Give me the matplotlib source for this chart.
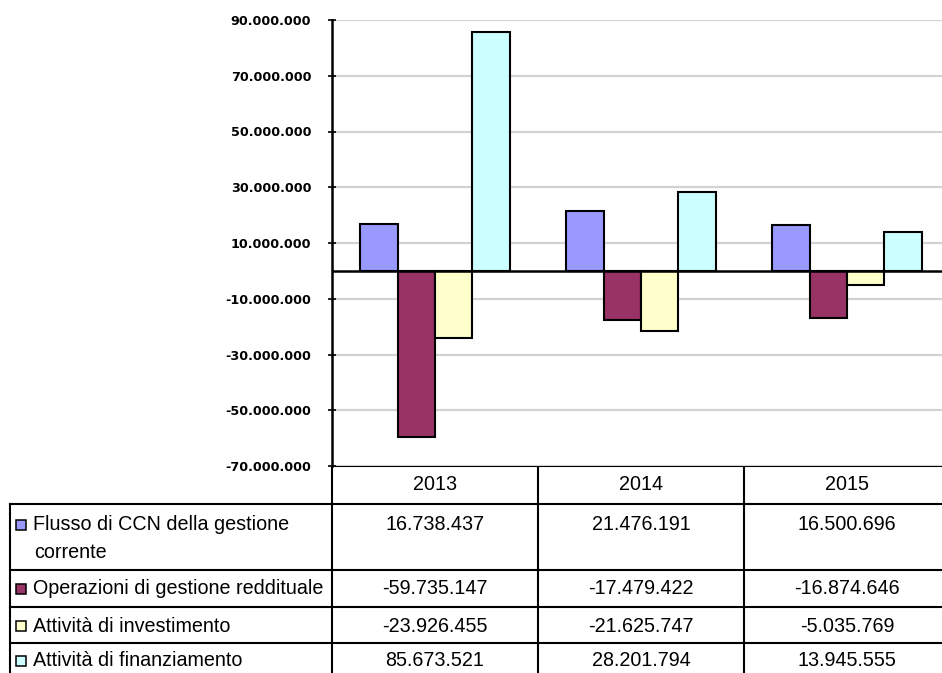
import numpy as np
import matplotlib
matplotlib.use("Agg")
import matplotlib.pyplot as plt
from matplotlib.ticker import FixedLocator, FuncFormatter

# ---- data ----
years = ["2013", "2014", "2015"]
series_names = [
    ["Flusso di CCN della gestione", "corrente"],
    ["Operazioni di gestione reddituale"],
    ["Attività di investimento"],
    ["Attività di finanziamento"],
]
flusso_ccn = [16738437, 21476191, 16500696]
gestione_reddituale = [-59735147, -17479422, -16874646]
investimento = [-23926455, -21625747, -5035769]
finanziamento = [85673521, 28201794, 13945555]
y_ticks = [-70000000, -50000000, -30000000, -10000000, 10000000,
           30000000, 50000000, 70000000, 90000000]

colors = ["#9999FF", "#993366", "#FFFFCC", "#CCFFFF"]
series = [flusso_ccn, gestione_reddituale, investimento, finanziamento]

W, H = 942, 673


def fmt(v):
    return f"{int(v):,}".replace(",", ".")


fig = plt.figure(figsize=(W / 100, H / 100), dpi=100)

# ---- chart area (pixel layout) ----
px_l, px_r, px_t, px_b = 332, 950, 20, 466
ax = fig.add_axes([px_l / W, 1 - px_b / H, (px_r - px_l) / W, (px_b - px_t) / H])
ax.set_xlim(-0.5, 2.5)
ax.set_ylim(-70000000, 90000000)

x = np.arange(len(years))
w = 1 / 5.5
for i, (vals, col) in enumerate(zip(series, colors)):
    ax.bar(x + (i - 1.5) * w, vals, width=w, color=col, edgecolor="black",
           linewidth=1.5, zorder=3)

ax.axhline(0, color="black", lw=1.8, zorder=4)
ax.yaxis.set_major_locator(FixedLocator(y_ticks))
ax.yaxis.set_major_formatter(FuncFormatter(lambda v, p: fmt(v)))
ax.grid(axis="y", color="#D2D2D2", lw=1.6, zorder=0)
ax.set_xticks([])
ax.tick_params(axis="y", direction="inout", length=6, width=1.2, pad=12,
               labelsize=9.2)
for lab in ax.get_yticklabels():
    lab.set_fontweight("bold")
    lab.set_family("DejaVu Sans")
for s in ["top", "right", "bottom"]:
    ax.spines[s].set_visible(False)
ax.spines["left"].set_linewidth(1.8)

# ---- data table below the chart, pixel coordinates ----
tb = fig.add_axes([0, 0, 1, (H - px_b) / H])
tb.set_xlim(0, W)
tb.set_ylim(H, px_b)
tb.axis("off")

col_edges = [332, 538, 744, 950]
row_edges = [504, 570, 607, 643, 700]
lk = dict(color="black", lw=1.5, solid_capstyle="projecting")

tb.plot([332, 950], [px_b, px_b], **lk)
tb.plot([10, 950], [504, 504], **lk)
tb.plot([10, 10], [504, 700], **lk)
for xe in col_edges[:3]:
    tb.plot([xe, xe], [px_b, 700], **lk)
for ye in row_edges[1:4]:
    tb.plot([10, 950], [ye, ye], **lk)

font = dict(family="Liberation Sans", fontsize=14.2, color="black")

for j, yr in enumerate(years):
    cx = (col_edges[j] + col_edges[j + 1]) / 2
    tb.text(cx, 484, yr, ha="center", va="center", **font)

row_text_y = [525, 589, 626, 661]
for i, (name, vals, col) in enumerate(zip(series_names, series, colors)):
    ty = row_text_y[i]
    tb.add_patch(plt.Rectangle((16, ty - 5), 10, 10, facecolor=col,
                               edgecolor="black", lw=1.1))
    for k, line in enumerate(name):
        tb.text(33 if k == 0 else 34, ty + 27 * k, line, ha="left",
                va="center", **font)
    for j, v in enumerate(vals):
        cx = (col_edges[j] + col_edges[j + 1]) / 2
        tb.text(cx, ty, fmt(v), ha="center", va="center", **font)

fig.savefig("out.png", dpi=100)
